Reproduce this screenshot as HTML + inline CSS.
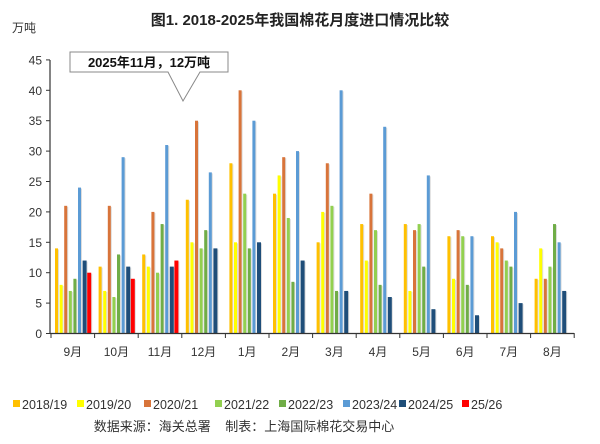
<!DOCTYPE html>
<html><head><meta charset="utf-8"><style>
body{margin:0;background:#fff}
svg{display:block;font-family:"Liberation Sans","Noto Sans CJK SC",sans-serif}
</style></head><body>
<svg id="s" width="600" height="444" xmlns="http://www.w3.org/2000/svg">
<text x="300" y="25" text-anchor="middle" font-size="15" font-weight="bold" fill="#222">图1. 2018-2025年我国棉花月度进口情况比较</text>
<text x="12" y="32" font-size="12" fill="#333">万吨</text>
<g id="g"></g>
<line x1="50" y1="60" x2="50" y2="334" stroke="#333" stroke-width="1.2"/>
<line x1="50" y1="333.5" x2="574" y2="333.5" stroke="#333" stroke-width="1.2"/>
<path d="M70,52 H228 V72 H200 L183,101 L168,72 H70 Z" fill="#fff" stroke="#888" stroke-width="1"/>
<text x="149" y="67" text-anchor="middle" font-size="13" font-weight="bold" fill="#111">2025年11月，12万吨</text>
<text x="244" y="431" text-anchor="middle" font-size="13" fill="#333" xml:space="preserve">数据来源：海关总署    制表：上海国际棉花交易中心</text>
</svg>
<script>
var s=document.getElementById('g'),h='';
var cols=['#FFC000','#FFFF00','#D8743A','#92D050','#70AD47','#5B9BD5','#1F4E79','#FF0000'];
var d=[[14,8,21,7,9,24,12,10],[11,7,21,6,13,29,11,9],[13,11,20,10,18,31,11,12],[22,15,35,14,17,26.5,14],[28,15,40,23,14,35,15],[23,26,29,19,8.5,30,12],[15,20,28,21,7,40,7],[18,12,23,17,8,34,6],[18,7,17,18,11,26,4],[16,9,17,16,8,16,3],[16,15,14,12,11,20,5],[9,14,9,11,18,15,7]];
var m=['9月','10月','11月','12月','1月','2月','3月','4月','5月','6月','7月','8月'];
var y0=333.5,u=6.08,gw=43.6,x0=51;
for(var i=0;i<=9;i++){var y=y0-i*5*u;h+='<line x1="46" x2="50" y1="'+y+'" y2="'+y+'" stroke="#333"/><text x="42" y="'+(y+4.5)+'" text-anchor="end" font-size="12" fill="#333">'+(i*5)+'</text>';}
for(var g=0;g<12;g++){var gx=x0+g*gw;
h+='<line x1="'+gx+'" x2="'+gx+'" y1="333" y2="338" stroke="#333"/>';
h+='<text x="'+(gx+gw/2)+'" y="356" text-anchor="middle" font-size="12" fill="#333">'+m[g]+'</text>';
for(var k=0;k<d[g].length;k++){var v=d[g][k];var w=(k>=6)?4:3;var bx=gx+4+k*4.6;
h+='<rect x="'+(bx+1)+'" y="'+(y0-v*u+1)+'" width="'+w+'" height="'+(v*u-1)+'" fill="#ddd"/>';
h+='<rect x="'+bx+'" y="'+(y0-v*u)+'" width="'+w+'" height="'+(v*u)+'" fill="'+cols[k]+'"/>';}}
h+='<line x1="'+(x0+12*gw)+'" x2="'+(x0+12*gw)+'" y1="333" y2="338" stroke="#333"/>';
var lx=[16,80,147,218,282,346,402,465],ln=['2018/19','2019/20','2020/21','2021/22','2022/23','2023/24','2024/25','25/26'];
for(var k=0;k<8;k++){h+='<rect x="'+(lx[k]-3)+'" y="400" width="7" height="7" fill="'+cols[k]+'"/><text x="'+(lx[k]+6)+'" y="409" font-size="12.5" fill="#333">'+ln[k]+'</text>';}
s.innerHTML=h;
</script>
</body></html>
